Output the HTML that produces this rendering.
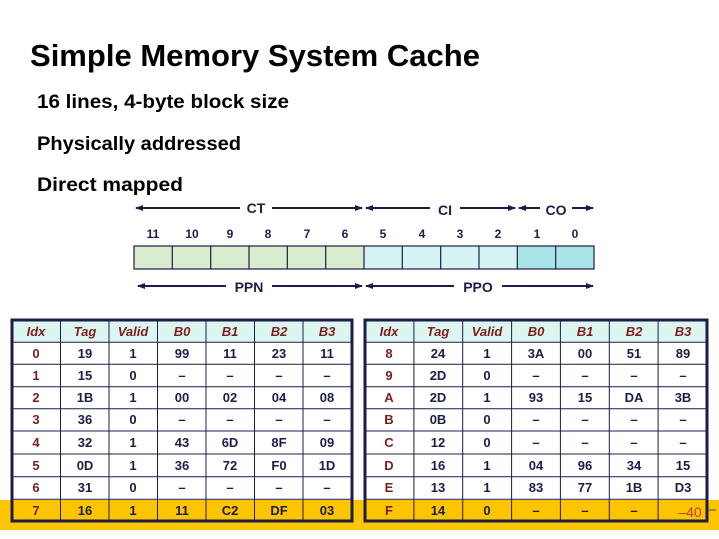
<!DOCTYPE html>
<html><head><meta charset="utf-8"><style>
html,body{margin:0;padding:0;background:#fff;width:719px;height:539px;overflow:hidden}
svg{display:block}
text{font-family:"Liberation Sans",sans-serif}
.h{font-weight:bold;font-style:italic;fill:#7a1f1f;font-size:13px;text-anchor:middle}
.d{font-weight:bold;fill:#1c1c4a;font-size:13px;text-anchor:middle}
.i{font-weight:bold;fill:#7a1f1f;font-size:13px;text-anchor:middle}
.b{font-weight:bold;fill:#1c1c4a;font-size:12px;text-anchor:middle}
.l{font-weight:bold;fill:#1c1c4a;font-size:14px;text-anchor:middle}
</style></head><body>
<svg width="719" height="539" viewBox="0 0 719 539" xmlns="http://www.w3.org/2000/svg">
<defs>
<marker id="a" markerWidth="8" markerHeight="8" refX="7" refY="4" orient="auto-start-reverse" markerUnits="userSpaceOnUse"><path d="M0,1 L8,4 L0,7 Z" fill="#1c1c4a"/></marker>
</defs>
<text x="30" y="66" font-size="31" font-weight="bold" fill="#000" textLength="450" lengthAdjust="spacingAndGlyphs">Simple Memory System Cache</text>
<text x="37" y="108" font-size="19" font-weight="bold" fill="#000" textLength="252" lengthAdjust="spacingAndGlyphs">16 lines, 4-byte block size</text>
<text x="37" y="150" font-size="19" font-weight="bold" fill="#000" textLength="204" lengthAdjust="spacingAndGlyphs">Physically addressed</text>
<text x="37" y="191" font-size="19" font-weight="bold" fill="#000" textLength="146" lengthAdjust="spacingAndGlyphs">Direct mapped</text>

<!-- top arrows -->
<g stroke="#1c1c4a" stroke-width="2" fill="none">
<line x1="136" y1="208" x2="240" y2="208" marker-start="url(#a)"/>
<line x1="272" y1="208" x2="362" y2="208" marker-end="url(#a)"/>
<line x1="366" y1="208" x2="430" y2="208" marker-start="url(#a)"/>
<line x1="460" y1="208" x2="515" y2="208" marker-end="url(#a)"/>
<line x1="519" y1="208" x2="540" y2="208" marker-start="url(#a)"/>
<line x1="572" y1="208" x2="593" y2="208" marker-end="url(#a)"/>
<line x1="138" y1="286" x2="226" y2="286" marker-start="url(#a)"/>
<line x1="272" y1="286" x2="362" y2="286" marker-end="url(#a)"/>
<line x1="366" y1="286" x2="454" y2="286" marker-start="url(#a)"/>
<line x1="502" y1="286" x2="593" y2="286" marker-end="url(#a)"/>
</g>
<text class="l" x="256" y="213">CT</text>
<text class="l" x="445" y="215">CI</text>
<text class="l" x="556" y="215">CO</text>
<text class="l" x="249" y="292">PPN</text>
<text class="l" x="478" y="292">PPO</text>

<!-- bit labels -->
<text class="b" x="153" y="238">11</text><text class="b" x="192" y="238">10</text><text class="b" x="230" y="238">9</text><text class="b" x="268" y="238">8</text><text class="b" x="307" y="238">7</text><text class="b" x="345" y="238">6</text><text class="b" x="383" y="238">5</text><text class="b" x="422" y="238">4</text><text class="b" x="460" y="238">3</text><text class="b" x="498" y="238">2</text><text class="b" x="537" y="238">1</text><text class="b" x="575" y="238">0</text>

<!-- register -->
<rect x="134" y="246" width="230" height="23" fill="#d9ecce"/>
<rect x="364" y="246" width="153" height="23" fill="#d6f3f4"/>
<rect x="517" y="246" width="77" height="23" fill="#a8e3e6"/>
<g stroke="#1c1c4a" stroke-width="1.2" fill="none">
<rect x="134" y="246" width="460" height="23"/>
<path d="M172.3 246v23M210.7 246v23M249 246v23M287.3 246v23M325.7 246v23M364 246v23M402.3 246v23M440.7 246v23M479 246v23M517.3 246v23M555.7 246v23"/>
</g>

<!-- yellow band -->
<rect x="0" y="500" width="719" height="30" fill="#fdc400"/>

<!-- table backgrounds -->
<rect x="12" y="320" width="340" height="22" fill="#dcf6ef"/>
<rect x="12" y="342" width="340" height="157" fill="#fff"/>
<rect x="365" y="320" width="342" height="22" fill="#dcf6ef"/>
<rect x="365" y="342" width="342" height="157" fill="#fff"/>

<g stroke="#1c1c4a" stroke-width="1" fill="none">
<path d="M60.5 320v201M109 320v201M157.5 320v201M206 320v201M254.5 320v201M303 320v201"/>
<path d="M12 342.3h340M12 364.3h340M12 386.7h340M12 408.7h340M12 431h340M12 454h340M12 476.7h340M12 499.3h340"/>
<path d="M413.9 320v201M462.7 320v201M511.6 320v201M560.4 320v201M609.3 320v201M658.1 320v201"/>
<path d="M365 342.3h342M365 364.3h342M365 386.7h342M365 408.7h342M365 431h342M365 454h342M365 476.7h342M365 499.3h342"/>
</g>
<g stroke="#1c1c4a" stroke-width="3" fill="none">
<rect x="12" y="320" width="340" height="201"/>
<rect x="365" y="320" width="342" height="201"/>
</g>

<!-- left table text -->
<g>
<text class="h" x="36" y="336">Idx</text><text class="h" x="85" y="336">Tag</text><text class="h" x="133" y="336">Valid</text><text class="h" x="182" y="336">B0</text><text class="h" x="230" y="336">B1</text><text class="h" x="279" y="336">B2</text><text class="h" x="327" y="336">B3</text>

<text class="i" x="36" y="358">0</text><text class="d" x="85" y="358">19</text><text class="d" x="133" y="358">1</text><text class="d" x="182" y="358">99</text><text class="d" x="230" y="358">11</text><text class="d" x="279" y="358">23</text><text class="d" x="327" y="358">11</text>
<text class="i" x="36" y="380">1</text><text class="d" x="85" y="380">15</text><text class="d" x="133" y="380">0</text><text class="d" x="182" y="380">–</text><text class="d" x="230" y="380">–</text><text class="d" x="279" y="380">–</text><text class="d" x="327" y="380">–</text>
<text class="i" x="36" y="402">2</text><text class="d" x="85" y="402">1B</text><text class="d" x="133" y="402">1</text><text class="d" x="182" y="402">00</text><text class="d" x="230" y="402">02</text><text class="d" x="279" y="402">04</text><text class="d" x="327" y="402">08</text>
<text class="i" x="36" y="424">3</text><text class="d" x="85" y="424">36</text><text class="d" x="133" y="424">0</text><text class="d" x="182" y="424">–</text><text class="d" x="230" y="424">–</text><text class="d" x="279" y="424">–</text><text class="d" x="327" y="424">–</text>
<text class="i" x="36" y="447">4</text><text class="d" x="85" y="447">32</text><text class="d" x="133" y="447">1</text><text class="d" x="182" y="447">43</text><text class="d" x="230" y="447">6D</text><text class="d" x="279" y="447">8F</text><text class="d" x="327" y="447">09</text>
<text class="i" x="36" y="470">5</text><text class="d" x="85" y="470">0D</text><text class="d" x="133" y="470">1</text><text class="d" x="182" y="470">36</text><text class="d" x="230" y="470">72</text><text class="d" x="279" y="470">F0</text><text class="d" x="327" y="470">1D</text>
<text class="i" x="36" y="492">6</text><text class="d" x="85" y="492">31</text><text class="d" x="133" y="492">0</text><text class="d" x="182" y="492">–</text><text class="d" x="230" y="492">–</text><text class="d" x="279" y="492">–</text><text class="d" x="327" y="492">–</text>
<text class="i" x="36" y="515">7</text><text class="d" x="85" y="515">16</text><text class="d" x="133" y="515">1</text><text class="d" x="182" y="515">11</text><text class="d" x="230" y="515">C2</text><text class="d" x="279" y="515">DF</text><text class="d" x="327" y="515">03</text>
</g>

<!-- right table text -->
<g>
<text class="h" x="389" y="336">Idx</text><text class="h" x="438" y="336">Tag</text><text class="h" x="487" y="336">Valid</text><text class="h" x="536" y="336">B0</text><text class="h" x="585" y="336">B1</text><text class="h" x="634" y="336">B2</text><text class="h" x="683" y="336">B3</text>

<text class="i" x="389" y="358">8</text><text class="d" x="438" y="358">24</text><text class="d" x="487" y="358">1</text><text class="d" x="536" y="358">3A</text><text class="d" x="585" y="358">00</text><text class="d" x="634" y="358">51</text><text class="d" x="683" y="358">89</text>
<text class="i" x="389" y="380">9</text><text class="d" x="438" y="380">2D</text><text class="d" x="487" y="380">0</text><text class="d" x="536" y="380">–</text><text class="d" x="585" y="380">–</text><text class="d" x="634" y="380">–</text><text class="d" x="683" y="380">–</text>
<text class="i" x="389" y="402">A</text><text class="d" x="438" y="402">2D</text><text class="d" x="487" y="402">1</text><text class="d" x="536" y="402">93</text><text class="d" x="585" y="402">15</text><text class="d" x="634" y="402">DA</text><text class="d" x="683" y="402">3B</text>
<text class="i" x="389" y="424">B</text><text class="d" x="438" y="424">0B</text><text class="d" x="487" y="424">0</text><text class="d" x="536" y="424">–</text><text class="d" x="585" y="424">–</text><text class="d" x="634" y="424">–</text><text class="d" x="683" y="424">–</text>
<text class="i" x="389" y="447">C</text><text class="d" x="438" y="447">12</text><text class="d" x="487" y="447">0</text><text class="d" x="536" y="447">–</text><text class="d" x="585" y="447">–</text><text class="d" x="634" y="447">–</text><text class="d" x="683" y="447">–</text>
<text class="i" x="389" y="470">D</text><text class="d" x="438" y="470">16</text><text class="d" x="487" y="470">1</text><text class="d" x="536" y="470">04</text><text class="d" x="585" y="470">96</text><text class="d" x="634" y="470">34</text><text class="d" x="683" y="470">15</text>
<text class="i" x="389" y="492">E</text><text class="d" x="438" y="492">13</text><text class="d" x="487" y="492">1</text><text class="d" x="536" y="492">83</text><text class="d" x="585" y="492">77</text><text class="d" x="634" y="492">1B</text><text class="d" x="683" y="492">D3</text>
<text class="i" x="389" y="515">F</text><text class="d" x="438" y="515">14</text><text class="d" x="487" y="515">0</text><text class="d" x="536" y="515">–</text><text class="d" x="585" y="515">–</text><text class="d" x="634" y="515">–</text>
<text x="690" y="517" font-size="14" fill="#c0392b" text-anchor="middle">–40</text>
<line x1="708" y1="510" x2="716" y2="510" stroke="#555" stroke-width="1"/>
</g>
</svg>
</body></html>
